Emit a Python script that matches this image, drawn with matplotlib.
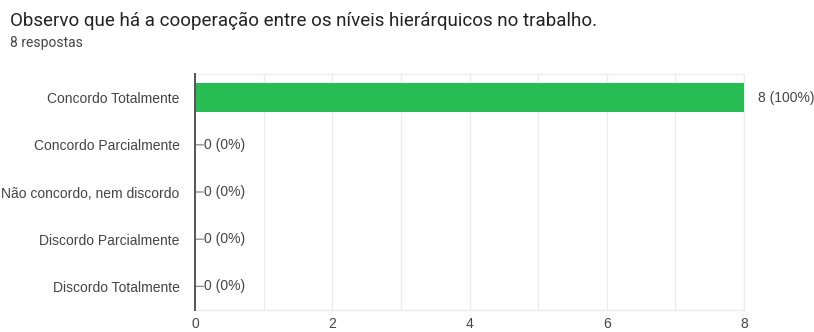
import matplotlib
matplotlib.use("Agg")
import matplotlib.pyplot as plt

categories = ["Concordo Totalmente", "Concordo Parcialmente",
              "Não concordo, nem discordo", "Discordo Parcialmente",
              "Discordo Totalmente"]
counts = [8, 0, 0, 0, 0]
total = 8
x_ticks = [0, 2, 4, 6, 8]

plt.rcParams["font.family"] = ["Liberation Sans", "DejaVu Sans"]
LABEL_SIZE = 10
LABEL_COLOR = "#444444"

fig = plt.figure(figsize=(8.14, 3.32), dpi=100)
ax = fig.add_axes([195 / 814, 22 / 332, 549 / 814, 236 / 332])

ypos = list(range(len(categories)))
ax.barh(ypos, counts, height=0.6, color="#27bd52", zorder=3)

for y, c in zip(ypos, counts):
    label = f"{c} ({round(100 * c / total)}%)"
    if c > 0:
        ax.annotate(label, (c, y), xytext=(10, 0), textcoords="offset points",
                    va="center", ha="left", fontsize=LABEL_SIZE, color=LABEL_COLOR)
    else:
        ax.annotate("", (c, y), xytext=(6, 0), textcoords="offset points",
                    arrowprops=dict(arrowstyle="-", color="#888888", lw=0.9,
                                    shrinkA=0, shrinkB=0))
        ax.annotate(label, (c, y), xytext=(6.3, 0), textcoords="offset points",
                    va="center", ha="left", fontsize=LABEL_SIZE, color=LABEL_COLOR)

ax.set_xlim(0, 8)
ax.set_ylim(4.5, -0.5)
ax.set_xticks(x_ticks)
ax.set_xticks(range(0, 9), minor=True)
ax.set_yticks(ypos)
ax.set_yticklabels(categories)
ax.tick_params(axis="both", which="both", length=0, labelsize=LABEL_SIZE,
               labelcolor=LABEL_COLOR)
ax.tick_params(axis="x", pad=5)
ax.tick_params(axis="y", pad=11)
ax.grid(axis="x", which="both", color="#ebebeb", lw=0.9, zorder=0)

for side in ["top", "right", "bottom"]:
    ax.spines[side].set_color("#ebebeb")
    ax.spines[side].set_linewidth(0.9)
ax.spines["left"].set_color("#555555")
ax.spines["left"].set_linewidth(1.4)
ax.spines["left"].set_zorder(4)

fig.text(10 / 814, 1 - 21 / 332,
         "Observo que há a cooperação entre os níveis hierárquicos no trabalho.",
         fontsize=13.5, color="#222222", va="center", ha="left",
         family=["Roboto", "DejaVu Sans"])
fig.text(10 / 814, 1 - 43 / 332, "8 respostas", fontsize=10,
         color="#444444", va="center", ha="left",
         family=["Roboto", "DejaVu Sans"])

fig.savefig("out.png", dpi=100)
